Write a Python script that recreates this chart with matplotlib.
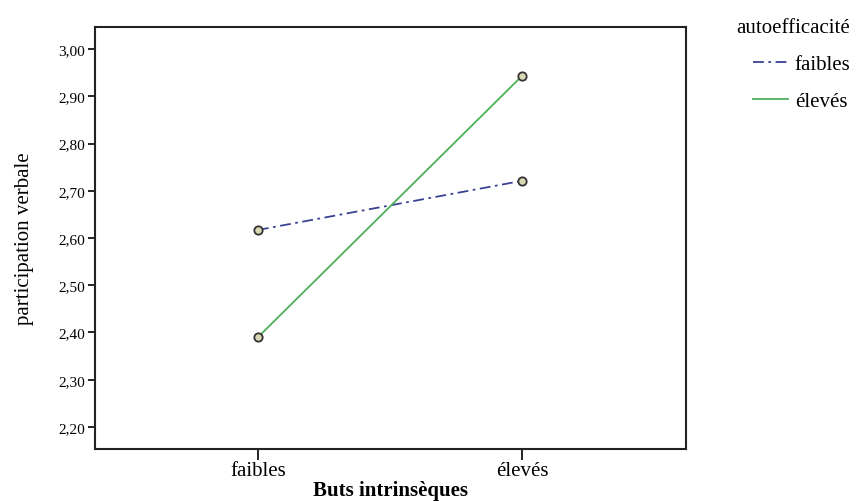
import matplotlib.pyplot as plt

categories = ["faibles", "élevés"]
faibles = [2.617, 2.721]
eleves = [2.390, 2.943]
yticks = [2.20, 2.30, 2.40, 2.50, 2.60, 2.70, 2.80, 2.90, 3.00]

plt.rcParams['font.family'] = ['Liberation Serif', 'DejaVu Serif']

fig = plt.figure(figsize=(8.62, 5.02), dpi=100)
ax = fig.add_axes([95/862, 52/502, 591/862, 422/502])

x = range(len(categories))
ax.plot(x, faibles, color='#3a4294', linestyle=(0, (6, 2.5, 1.5, 2.5)), lw=1.3,
        marker='o', ms=6, mfc='#d9d8b4', mec='#333333', mew=1.3, label='faibles')
ax.plot(x, eleves, color='#4caf5a', linestyle='-', lw=1.3,
        marker='o', ms=6, mfc='#d9d8b4', mec='#333333', mew=1.3, label='élevés')

ax.set_xlim(-0.617, 1.621)
ax.set_ylim(2.1534, 3.0466)
ax.set_xticks(list(x))
ax.set_xticklabels(categories, fontsize=15)
ax.set_yticks(yticks)
ax.set_yticklabels([f"{v:.2f}".replace('.', ',') for v in yticks], fontsize=11)
ax.tick_params(axis='y', length=5, width=1.2, pad=2)
ax.tick_params(axis='x', length=8, width=1.2, pad=1)
for s in ax.spines.values():
    s.set_linewidth(1.5)
    s.set_color('#222222')

ax.set_xlabel("Buts intrinsèques", fontsize=15, fontweight='bold', labelpad=0)
ax.set_ylabel("participation verbale", fontsize=15, labelpad=18)

leg = fig.legend(loc='upper left', bbox_to_anchor=(718/862, 1.0), frameon=False,
                 title="autoefficacité", title_fontsize=15, fontsize=15,
                 handlelength=1.7, handletextpad=0.3, labelspacing=0.85)
leg._legend_box.align = "right"
for h in leg.legend_handles:
    h.set_marker('')

fig.savefig("out.png", dpi=100)
